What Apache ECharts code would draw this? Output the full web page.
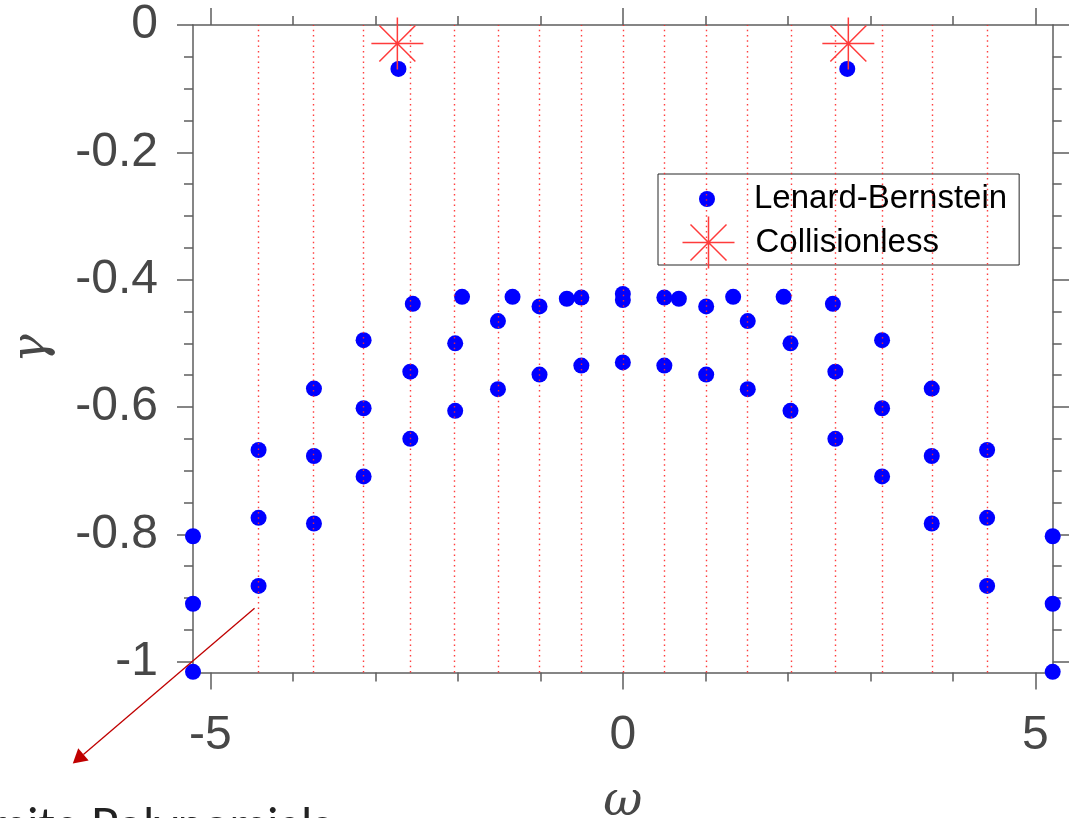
<!DOCTYPE html>
<html>
<head>
<meta charset="utf-8">
<script src="https://cdn.jsdelivr.net/npm/echarts@6/dist/echarts.min.js"></script>
<style>
html,body{margin:0;padding:0;background:#fff;}
#c{width:1069px;height:818px;}
</style>
</head>
<body>
<div id="c"></div>
<script>
// ---- data ----
const lbOmega = [
  -5.21, -5.21, -5.21,
  -4.415, -4.415, -4.415,
  -3.744, -3.744, -3.744,
  -3.142, -3.142, -3.142,
  -2.72,
  -2.546, -2.576, -2.576,
  -2.032, -2.032, -1.949,
  -1.514, -1.514, -1.337,
  -1.01, -1.01,
  -0.679, -0.503, -0.503,
  0, 0, 0,
  0.503, 0.503, 0.679,
  1.01, 1.01,
  1.337, 1.514, 1.514,
  1.949, 2.032, 2.032,
  2.546, 2.576, 2.576,
  2.72,
  3.142, 3.142, 3.142,
  3.744, 3.744, 3.744,
  4.415, 4.415, 4.415,
  5.21, 5.21, 5.21
];
const lbGamma = [
  -0.803, -0.909, -1.016,
  -0.6675, -0.774, -0.881,
  -0.571, -0.677, -0.783,
  -0.495, -0.602, -0.709,
  -0.069,
  -0.438, -0.5445, -0.650,
  -0.500, -0.606, -0.427,
  -0.465, -0.572, -0.427,
  -0.442, -0.549,
  -0.430, -0.428, -0.535,
  -0.4225, -0.432, -0.530,
  -0.428, -0.535, -0.430,
  -0.442, -0.549,
  -0.427, -0.465, -0.572,
  -0.427, -0.500, -0.606,
  -0.438, -0.5445, -0.650,
  -0.069,
  -0.495, -0.602, -0.709,
  -0.571, -0.677, -0.783,
  -0.6675, -0.774, -0.881,
  -0.803, -0.909, -1.016
];
const colOmega = [-2.733, 2.733];
const colGamma = [-0.029, -0.029];
const hermiteNodes = [-4.42, -3.75, -3.15, -2.585, -2.04, -1.514, -1.008, -0.503, 0,
                      0.503, 1.008, 1.514, 2.04, 2.585, 3.15, 3.75, 4.42];
const xMajorTicks = [-5, 0, 5];
const xMinorTicks = [-4, -3, -2, -1, 1, 2, 3, 4];
const yMajorTicks = [0, -0.2, -0.4, -0.6, -0.8, -1];
const yMinorTicks = [-0.05, -0.1, -0.15, -0.25, -0.3, -0.35, -0.45, -0.5, -0.55,
                     -0.65, -0.7, -0.75, -0.85, -0.9, -0.95];
const xRange = [-5.21, 5.21];
const yRange = [-1.017, 0];
const arrowFrom = [-4.464, -0.916];
const arrowTo = [-6.667, -1.16];
const annotationText = 'Hermite Polynomials';

// ---- chart ----
const AX = '#5e5e5e';
const TXT = '#474747';
const chart = echarts.init(document.getElementById('c'));

function mkX(pos, ticks, len, main) {
  return {
    type: 'value', position: pos, min: xRange[0], max: xRange[1],
    axisLine: {show: main, onZero: false, lineStyle: {color: AX, width: 1.5}},
    axisTick: {show: true, inside: false, customValues: ticks, length: len, lineStyle: {color: AX, width: 1.5}},
    axisLabel: {show: false},
    splitLine: {show: false}
  };
}
function mkY(pos, ticks, len, main) {
  return {
    type: 'value', position: pos, min: yRange[0], max: yRange[1],
    axisLine: {show: main, onZero: false, lineStyle: {color: AX, width: 1.5}},
    axisTick: {show: true, inside: false, customValues: ticks, length: len, lineStyle: {color: AX, width: 1.5}},
    axisLabel: {show: false},
    splitLine: {show: false}
  };
}

const xMain = mkX('bottom', xMajorTicks, 17, true);
xMain.axisLabel = {show: true, customValues: xMajorTicks, margin: 39, fontSize: 48,
  color: TXT, fontFamily: 'Liberation Sans'};
xMain.name = 'ω';
xMain.nameLocation = 'middle';
xMain.nameGap = 106;
xMain.nameTextStyle = {fontSize: 48, fontStyle: 'italic', fontFamily: 'DejaVu Serif', color: TXT};

const yMain = mkY('left', yMajorTicks, 16, true);
yMain.axisLabel = {show: true, customValues: yMajorTicks, margin: 35, fontSize: 48,
  color: TXT, fontFamily: 'Liberation Sans'};
yMain.name = 'γ';
yMain.nameLocation = 'middle';
yMain.nameRotate = 90;
yMain.nameGap = 136;
yMain.nameTextStyle = {fontSize: 48, fontStyle: 'italic', fontFamily: 'DejaVu Serif', color: TXT};

const option = {
  animation: false,
  backgroundColor: '#ffffff',
  grid: {left: 193, top: 25, width: 859.7, height: 647.5, containLabel: false, outerBoundsMode: 'none'},
  xAxis: [
    xMain,
    mkX('bottom', xMinorTicks, 9, false),
    mkX('top', xMajorTicks, 17, true),
    mkX('top', xMinorTicks, 9, false)
  ],
  yAxis: [
    yMain,
    mkY('left', yMinorTicks, 9, false),
    mkY('right', yMajorTicks, 17, true),
    mkY('right', yMinorTicks, 9, false)
  ],
  legend: [
    {
      data: ['Lenard-Bernstein'], orient: 'vertical', left: 658, top: 174,
      padding: [8.5, 12, 49.5, 41], itemWidth: 84, itemHeight: 16, itemGap: 0,
      borderColor: '#262626', borderWidth: 1, backgroundColor: '#ffffff',
      selectedMode: false, z: 4,
      textStyle: {fontSize: 33, lineHeight: 33, color: '#000', fontFamily: 'Liberation Sans'}
    },
    {
      data: ['Collisionless'], orient: 'vertical', left: 680, top: 214,
      padding: 0, itemWidth: 84, itemHeight: 52, itemGap: 0,
      selectedMode: false, z: 6,
      itemStyle: {color: 'none', borderColor: '#ff3b3b', borderWidth: 1.5},
      textStyle: {fontSize: 33, lineHeight: 33, color: '#000', fontFamily: 'Liberation Sans'}
    }
  ],
  series: [
    {
      name: 'Lenard-Bernstein', type: 'scatter', xAxisIndex: 0, yAxisIndex: 0,
      symbol: 'circle', symbolSize: 16, z: 2,
      itemStyle: {color: '#0000ff', opacity: 1},
      data: lbOmega.map((w, i) => [w, lbGamma[i]]),
      markLine: {
        silent: true, symbol: ['none', 'none'], z: 5, animation: false,
        label: {show: false},
        lineStyle: {color: '#ff2a2a', type: [1.5, 3.8], width: 1.4, opacity: 0.9},
        emphasis: {disabled: true},
        data: hermiteNodes.map(v => ({xAxis: v}))
      }
    },
    {
      name: 'Collisionless', type: 'scatter', xAxisIndex: 0, yAxisIndex: 0,
      symbol: 'path://M0,-26 L0,26 M-26,0 L26,0 M-18,-18 L18,18 M-18,18 L18,-18',
      symbolKeepAspect: true, symbolSize: 52, z: 10,
      itemStyle: {color: 'none', borderColor: '#ff3b3b', borderWidth: 1.5, opacity: 1},
      data: colOmega.map((w, i) => [w, colGamma[i]])
    }
  ]
};
chart.setOption(option);

// annotation arrow, placed through the chart's own scales
const p0 = chart.convertToPixel({xAxisIndex: 0, yAxisIndex: 0}, arrowFrom);
const p1 = chart.convertToPixel({xAxisIndex: 0, yAxisIndex: 0}, arrowTo);
const dx = p1[0] - p0[0], dy = p1[1] - p0[1];
const L = Math.sqrt(dx * dx + dy * dy);
const ux = dx / L, uy = dy / L, nx = -uy, ny = ux;
const headLen = 14, headHalf = 8;
const bx = p1[0] - ux * headLen, by = p1[1] - uy * headLen;
chart.setOption({
  graphic: [
    {type: 'line', z: 20, shape: {x1: p0[0], y1: p0[1], x2: bx, y2: by},
      style: {stroke: '#c00000', lineWidth: 1.3}},
    {type: 'polygon', z: 20,
      shape: {points: [[p1[0], p1[1]], [bx + nx * headHalf, by + ny * headHalf], [bx - nx * headHalf, by - ny * headHalf]]},
      style: {fill: '#c00000'}},
    {type: 'text', z: 20, x: 332, y: 803,
      style: {text: annotationText, fontSize: 46, fontFamily: 'Lato', fill: '#222222',
        align: 'right', verticalAlign: 'top'}}
  ]
});
</script>
</body>
</html>
